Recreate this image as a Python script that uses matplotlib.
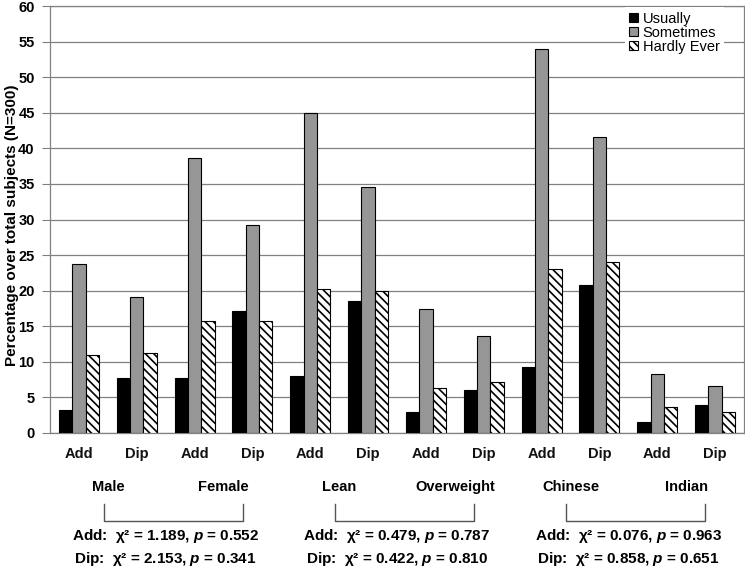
import matplotlib
matplotlib.use('Agg')
import matplotlib.pyplot as plt
import matplotlib.transforms as mtransforms
import numpy as np

# データ
categories = ['Add', 'Dip'] * 6
usually = [3.3, 7.7, 7.7, 17.1, 8.0, 18.6, 3.0, 6.0, 9.3, 20.8, 1.6, 4.0]
sometimes = [23.7, 19.1, 38.7, 29.2, 44.9, 34.6, 17.4, 13.7, 54.0, 41.6, 8.3, 6.6]
hardly_ever = [10.9, 11.3, 15.8, 15.8, 20.3, 20.0, 6.3, 7.1, 23.0, 24.0, 3.7, 3.0]
series_names = ['Usually', 'Sometimes', 'Hardly Ever']

group_labels = ['Male', 'Female', 'Lean', 'Overweight', 'Chinese', 'Indian']
stats_add = ['1.189', '0.552', '0.479', '0.787', '0.076', '0.963']
stats_dip = ['2.153', '0.341', '0.422', '0.810', '0.858', '0.651']

plt.rcParams['font.family'] = ['Liberation Sans', 'DejaVu Sans']
plt.rcParams['mathtext.fontset'] = 'custom'
plt.rcParams['mathtext.rm'] = 'Liberation Sans:bold'
plt.rcParams['mathtext.it'] = 'Liberation Sans:bold:italic'
plt.rcParams['hatch.linewidth'] = 1.2

fig = plt.figure(figsize=(7.45, 5.73), dpi=100)
ax = fig.add_axes([50 / 745, 1 - 433 / 573, 694 / 745, 427 / 573])

x = np.arange(len(categories))
w = 0.23
ax.bar(x - w, usually, w, color='black', edgecolor='black', linewidth=0.8, zorder=3, label=series_names[0])
ax.bar(x, sometimes, w, color='#969696', edgecolor='black', linewidth=0.8, zorder=3, label=series_names[1])
ax.bar(x + w, hardly_ever, w, color='white', edgecolor='black', hatch='\\\\\\\\', linewidth=0.8,
       zorder=3, label=series_names[2])

ax.set_xlim(-0.5, len(categories) - 0.5)
ax.set_ylim(0, 60)
ax.set_yticks(range(0, 61, 5))
ax.yaxis.grid(True, color='#808080', linewidth=0.9, zorder=0)
ax.set_axisbelow(True)
for s in ax.spines.values():
    s.set_color('#808080')
    s.set_linewidth(0.9)

ax.set_xticks(x)
ax.set_xticklabels(categories, fontsize=10.5, fontweight='bold', color='#111111')
ax.tick_params(axis='x', length=0, pad=10)
ax.tick_params(axis='y', length=6, color='#808080', pad=5, labelsize=10.5)
for lb in ax.get_yticklabels():
    lb.set_fontweight('bold')
ax.set_ylabel('Percentage over total subjects (N=300)', fontsize=11, fontweight='bold')
ax.yaxis.set_label_coords(-0.044, 0.487)

# 下部の注釈（x: データ座標, y: 軸座標）
trans = mtransforms.blended_transform_factory(ax.transData, ax.transAxes)
for k in range(3):
    m1 = 4 * k + 0.5
    m2 = 4 * k + 2.5
    ax.text(m1, -0.126, group_labels[2 * k], transform=trans, ha='center', va='center',
            fontsize=10.5, fontweight='bold')
    ax.text(m2, -0.126, group_labels[2 * k + 1], transform=trans, ha='center', va='center',
            fontsize=10.5, fontweight='bold')
    bx = [m1 - 0.07, m1 - 0.07, m2 + 0.33, m2 + 0.33]
    by = [-0.166, -0.206, -0.206, -0.166]
    ax.plot(bx, by, color='#555555', linewidth=1, transform=trans, clip_on=False)
    mid = (m1 + m2) / 2
    ax.text(mid, -0.241, f'Add:  χ² = {stats_add[2 * k]}, $p$ = {stats_add[2 * k + 1]}',
            transform=trans, ha='center', va='center', fontsize=11, fontweight='bold')
    ax.text(mid, -0.295, f'Dip:  χ² = {stats_dip[2 * k]}, $p$ = {stats_dip[2 * k + 1]}',
            transform=trans, ha='center', va='center', fontsize=11, fontweight='bold')

leg = ax.legend(loc='upper right', bbox_to_anchor=(0.973, 1.0), fontsize=10.5, frameon=True,
                facecolor='white', edgecolor='none', framealpha=1, fancybox=False,
                handlelength=0.6, handleheight=0.6, handletextpad=0.3, labelspacing=0.0,
                borderpad=0.3, borderaxespad=0.1)
leg.set_zorder(5)

fig.savefig('out.png', dpi=100)
